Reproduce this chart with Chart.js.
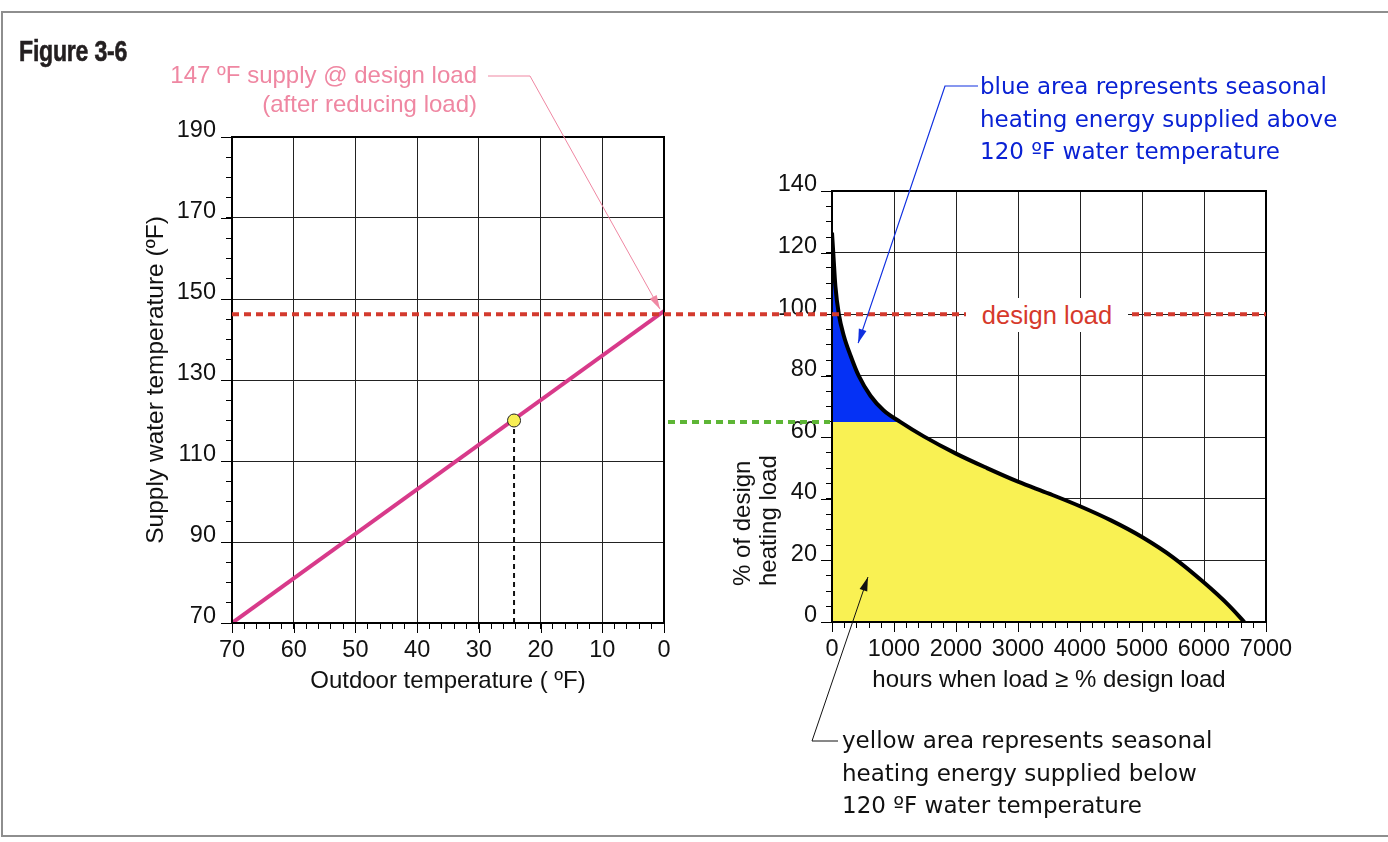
<!DOCTYPE html>
<html>
<head>
<meta charset="utf-8">
<title>Figure 3-6</title>
<script src="https://cdn.jsdelivr.net/npm/chart.js@4.4.1/dist/chart.umd.min.js"></script>
<style>
  html, body { margin: 0; padding: 0; background: #fff; }
  #page { position: relative; width: 1388px; height: 842px; overflow: hidden; background: #fff;
          font-family: 'Liberation Sans', Arial, Helvetica, sans-serif; }
  #frame { position: absolute; left: 1px; top: 11px; width: 1420px; height: 822px;
           border: 2px solid #8e8e8e; border-right: none; }
  canvas { position: absolute; }
  #leftChart { left: 100px; top: 100px; }
  #rightChart { left: 700px; top: 150px; }
  #overlay { left: 0; top: 0; pointer-events: none; }
  .note { position: absolute; white-space: nowrap; }
  #figLabel { left: 19px; top: 34px; font: bold 30px 'Liberation Sans', Arial, sans-serif; color: #231f20;
              transform: scaleX(0.77); transform-origin: 0 0; letter-spacing: -0.3px;
              -webkit-text-stroke: 0.6px #231f20; }
  #pinkNote { left: 0; width: 477px; top: 60px; text-align: right; font-size: 24px; line-height: 29px; color: #ef87a2; }
  #designLoad { left: 966px; top: 298px; width: 162px; height: 34px; line-height: 34px; text-align: center;
                background: #fff; font-size: 25.5px; color: #d6392b; }
  #rightYTitle { left: 729px; top: 586px; width: 200px; font-size: 24px; line-height: 26px; color: #111;
                 transform: rotate(-90deg); transform-origin: 0 0; text-align: left; }
  .lucida { font-family: 'DejaVu Sans', sans-serif; font-size: 23px; line-height: 32.5px; }
  #blueNote { left: 980px; top: 70px; color: #0a22d4; }
  #yellowNote { left: 842px; top: 724px; color: #111; }
</style>
</head>
<body>
<div id="page">
  <div id="frame"></div>
  <canvas id="leftChart" width="600" height="610"></canvas>
  <canvas id="rightChart" width="610" height="560"></canvas>
  <canvas id="overlay" width="1388" height="842"></canvas>
  <div class="note" id="figLabel">Figure 3-6</div>
  <div class="note" id="pinkNote">147 ºF supply @ design load<br>(after reducing load)</div>
  <div class="note" id="designLoad">design load</div>
  <div class="note" id="rightYTitle">% of design<br>heating load</div>
  <div class="note lucida" id="blueNote">blue area represents seasonal<br>heating energy supplied above<br>120 ºF water temperature</div>
  <div class="note lucida" id="yellowNote">yellow area represents seasonal<br>heating energy supplied below<br>120 ºF water temperature</div>
</div>
<script>
// left chart: supply water temperature reset line
const outdoorTemps = [70, 0];
const supplyTemps = [70, 147];
const markOutdoor = 24.3;
const markSupply = 120;

// right chart: load duration curve
const hours = [0, 20, 55, 110, 190, 300, 430, 620, 830, 1100, 1480, 2000, 2500, 3000, 3500, 4000, 4500, 5000, 5500, 6000, 6400, 6650];
const loadPct = [126.5, 120, 109, 100, 93, 86.5, 80, 73.5, 68.8, 65, 60.3, 54.7, 50, 45.6, 41.7, 37.6, 33, 27.6, 21, 12.8, 5.4, 0];
const designLoadPct = 100;
const splitPct = 65; // load where supply reaches 120 ºF

// where the leader arrows point (data coords)
const blueTip = { x: 422, y: 90.6 };
const yellowTip = { x: 580, y: 14.6 };

Chart.defaults.font.family = "'Liberation Sans', Arial, sans-serif";
Chart.defaults.color = '#111';

const FONT_TICK = { size: 23.5 };
const FONT_TITLE = { size: 24 };

// long major ticks + heavy plot frame
const frameAndTicks = {
  id: 'frameAndTicks',
  afterDraw(chart, args, opts) {
    const { ctx, chartArea: a, scales: { x, y } } = chart;
    ctx.save();
    ctx.strokeStyle = '#000';
    ctx.lineWidth = 1;
    ctx.beginPath();
    x.ticks.forEach((t) => {
      if (!opts.xMajor(t.value)) return;
      const p = Math.round(x.getPixelForValue(t.value)) + 0.5;
      ctx.moveTo(p, a.bottom);
      ctx.lineTo(p, a.bottom + 10);
    });
    y.ticks.forEach((t) => {
      if (!opts.yMajor(t.value)) return;
      const p = Math.round(y.getPixelForValue(t.value)) + 0.5;
      ctx.moveTo(a.left, p);
      ctx.lineTo(a.left - 11, p);
    });
    ctx.stroke();
    ctx.lineWidth = 2;
    ctx.strokeRect(a.left, a.top, a.right - a.left, a.bottom - a.top);
    ctx.restore();
  }
};

function axis(opts) {
  const { min, max, step, isMajor, title, reverse, fitWidth, fitHeight, labelOffset, padding } = opts;
  return {
    type: 'linear',
    min, max, reverse: !!reverse,
    border: { display: false },
    grid: {
      color: (c) => isMajor(c.tick.value) ? '#222' : 'rgba(0,0,0,0)',
      lineWidth: 1,
      tickColor: '#000',
      tickLength: 6,
      drawTicks: true
    },
    ticks: {
      stepSize: step,
      autoSkip: false,
      maxRotation: 0,
      padding: padding,
      labelOffset: labelOffset || 0,
      font: FONT_TICK,
      color: '#111',
      callback: (v) => isMajor(v) ? String(v) : ''
    },
    title: title
      ? { display: true, text: title.text, font: title.font || FONT_TITLE, color: '#111', padding: { top: 4, bottom: 4 } }
      : { display: false },
    afterFit: (s) => {
      if (fitWidth) s.width = fitWidth;
      if (fitHeight) s.height = fitHeight;
    }
  };
}

const leftXMajor = (v) => v % 10 === 0;
const leftYMajor = (v) => (v - 70) % 20 === 0;

const leftChart = new Chart(document.getElementById('leftChart'), {
  type: 'line',
  data: {
    datasets: [
      {
        data: [{ x: markOutdoor, y: markSupply }],
        showLine: false,
        pointRadius: 6.5,
        pointBackgroundColor: '#f8ef55',
        pointBorderColor: '#222',
        pointBorderWidth: 1,
        order: 0
      },
      {
        data: outdoorTemps.map((x, i) => ({ x, y: supplyTemps[i] })),
        borderColor: '#d83a8a',
        borderWidth: 4,
        pointRadius: 0,
        order: 1
      },
      {
        data: [{ x: markOutdoor, y: 70 }, { x: markOutdoor, y: markSupply }],
        borderColor: '#111',
        borderWidth: 2,
        borderDash: [5, 4],
        pointRadius: 0,
        order: 2
      }
    ]
  },
  options: {
    responsive: false,
    animation: false,
    devicePixelRatio: 1,
    layout: { padding: { left: 38, top: 37, right: 36, bottom: 10 } },
    plugins: {
      legend: { display: false },
      tooltip: { enabled: false },
      frameAndTicks: { xMajor: leftXMajor, yMajor: leftYMajor }
    },
    scales: {
      x: axis({ min: 0, max: 70, step: 2, reverse: true, isMajor: leftXMajor, padding: 7,
                title: { text: 'Outdoor temperature ( ºF)' }, fitHeight: 77 }),
      y: axis({ min: 70, max: 190, step: 5, isMajor: leftYMajor, padding: 10, labelOffset: -6,
                title: { text: 'Supply water temperature (ºF)', font: { size: 24.5 } }, fitWidth: 94 })
    }
  },
  plugins: [frameAndTicks]
});

const rightXMajor = (v) => v % 1000 === 0;
const rightYMajor = (v) => v % 20 === 0;
const curvePoints = hours.map((x, i) => ({ x, y: loadPct[i] }));

const rightChart = new Chart(document.getElementById('rightChart'), {
  type: 'line',
  data: {
    datasets: [
      {
        data: curvePoints,
        borderColor: '#000',
        borderWidth: 4,
        pointRadius: 0,
        cubicInterpolationMode: 'monotone',
        fill: { target: { value: splitPct }, above: '#0531f5', below: 'rgba(0,0,0,0)' },
        order: 1
      },
      {
        data: curvePoints,
        borderWidth: 0,
        borderColor: 'rgba(0,0,0,0)',
        backgroundColor: '#f9f153',
        pointRadius: 0,
        cubicInterpolationMode: 'monotone',
        fill: 'origin',
        order: 2
      }
    ]
  },
  options: {
    responsive: false,
    animation: false,
    devicePixelRatio: 1,
    layout: { padding: { left: 25, top: 41, right: 44, bottom: 11 } },
    plugins: {
      legend: { display: false },
      tooltip: { enabled: false },
      frameAndTicks: { xMajor: rightXMajor, yMajor: rightYMajor }
    },
    scales: {
      x: axis({ min: 0, max: 7000, step: 200, isMajor: rightXMajor, padding: 7,
                title: { text: 'hours when load ≥ % design load' }, fitHeight: 77 }),
      y: axis({ min: 0, max: 140, step: 5, isMajor: rightYMajor, padding: 9, labelOffset: -6,
                fitWidth: 107 })
    }
  },
  plugins: [frameAndTicks]
});

// overlay: lines that cross both charts, and leader arrows
const g = document.getElementById('overlay').getContext('2d');
const px = (chart, v) => chart.canvas.offsetLeft + chart.scales.x.getPixelForValue(v);
const py = (chart, v) => chart.canvas.offsetTop + chart.scales.y.getPixelForValue(v);

function dotted(x1, x2, y, color) {
  g.save();
  g.strokeStyle = color;
  g.lineWidth = 4;
  g.setLineDash([7, 5]);
  g.beginPath();
  g.moveTo(x1, y);
  g.lineTo(x2, y);
  g.stroke();
  g.restore();
}

function leader(points, color, width) {
  g.save();
  g.strokeStyle = color;
  g.fillStyle = color;
  g.lineWidth = width;
  g.beginPath();
  g.moveTo(points[0][0], points[0][1]);
  points.slice(1).forEach((p) => g.lineTo(p[0], p[1]));
  g.stroke();
  const [ax, ay] = points[points.length - 2];
  const [bx, by] = points[points.length - 1];
  const ang = Math.atan2(by - ay, bx - ax);
  const len = 14, half = 4;
  g.beginPath();
  g.moveTo(bx, by);
  g.lineTo(bx - len * Math.cos(ang) + half * Math.sin(ang), by - len * Math.sin(ang) - half * Math.cos(ang));
  g.lineTo(bx - len * Math.cos(ang) - half * Math.sin(ang), by - len * Math.sin(ang) + half * Math.cos(ang));
  g.closePath();
  g.fill();
  g.restore();
}

const designY = py(rightChart, designLoadPct);
dotted(px(leftChart, 70), px(rightChart, 7000), designY, '#d33a2e');
dotted(px(leftChart, 0) + 4, px(rightChart, 0) - 2, py(rightChart, splitPct), '#5db535');

leader([[488, 76], [530, 76], [px(leftChart, 0) - 4, py(leftChart, 147) - 2]], '#ef87a2', 1);
leader([[978, 86], [945, 86], [px(rightChart, blueTip.x), py(rightChart, blueTip.y)]], '#1030e0', 1.2);
leader([[838, 741], [812, 741], [px(rightChart, yellowTip.x), py(rightChart, yellowTip.y)]], '#111', 1);
</script>
</body>
</html>
